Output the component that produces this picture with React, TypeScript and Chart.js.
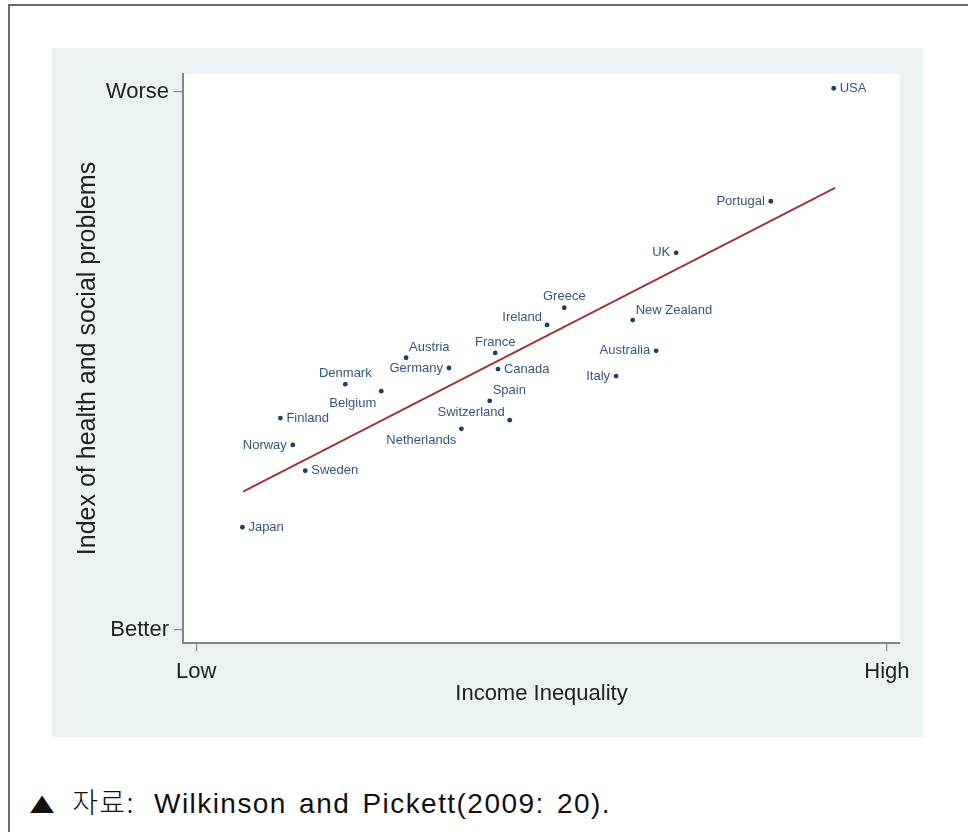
import React, { useEffect, useRef } from 'react';
import { Chart, registerables } from 'chart.js';

Chart.register(...registerables);

// ---- Data ----
const countries = [
  'USA', 'Portugal', 'UK', 'Greece', 'Ireland', 'New Zealand', 'France', 'Australia',
  'Canada', 'Germany', 'Austria', 'Italy', 'Denmark', 'Belgium', 'Spain', 'Switzerland',
  'Netherlands', 'Finland', 'Norway', 'Sweden', 'Japan',
];
const incomeInequality = [
  9.23, 8.32, 6.95, 5.33, 5.08, 6.32, 4.33, 6.66,
  4.37, 3.66, 3.04, 6.08, 2.16, 2.68, 4.25, 4.54,
  3.84, 1.22, 1.40, 1.58, 0.67,
];
const healthSocialIndex = [
  10.07, 7.97, 7.01, 5.99, 5.67, 5.76, 5.15, 5.19,
  4.85, 4.87, 5.06, 4.72, 4.57, 4.44, 4.26, 3.90,
  3.74, 3.94, 3.44, 2.96, 1.91,
];
const fitLineX = [0.68, 9.25];
const fitLineY = [2.57, 8.22];
const xTickValues = [0, 10];
const xTickLabels = ['Low', 'High'];
const yTickValues = [0, 10];
const yTickLabels = ['Better', 'Worse'];

// label placement (clock positions, as in Stata's mlabposition)
const labelClock: Record<string, number> = {
  USA: 3, Portugal: 9, UK: 9, Greece: 12, Ireland: 11, 'New Zealand': 1, France: 12,
  Australia: 9, Canada: 3, Germany: 9, Austria: 1, Italy: 9, Denmark: 12, Belgium: 7,
  Spain: 1, Switzerland: 11, Netherlands: 7, Finland: 3, Norway: 9, Sweden: 3, Japan: 3,
};

const FONT = '"Liberation Sans", Arial, Helvetica, sans-serif';
const NAVY = '#1c3f68';
const LABEL = '#33577f';
const MAROON = '#a3343b';

const plotBackground = {
  id: 'plotBackground',
  beforeDraw(chart: any) {
    const { ctx, chartArea } = chart;
    if (!chartArea) return;
    ctx.save();
    ctx.fillStyle = '#ffffff';
    ctx.fillRect(chartArea.left, chartArea.top, chartArea.right - chartArea.left, chartArea.bottom - chartArea.top);
    ctx.restore();
  },
};

const pointLabels = {
  id: 'pointLabels',
  afterDatasetsDraw(chart: any) {
    const { ctx } = chart;
    const meta = chart.getDatasetMeta(0);
    ctx.save();
    ctx.font = `13px ${FONT}`;
    ctx.fillStyle = LABEL;
    meta.data.forEach((el: any, i: number) => {
      const name = countries[i];
      const pos = labelClock[name] ?? 3;
      let dx = 6, dy = 0, align: CanvasTextAlign = 'left';
      if (pos === 3) { dx = 6; dy = 0; align = 'left'; }
      else if (pos === 9) { dx = -6; dy = 0; align = 'right'; }
      else if (pos === 12) { dx = 0; dy = -11; align = 'center'; }
      else if (pos === 1) { dx = 3; dy = -10; align = 'left'; }
      else if (pos === 11) { dx = -5; dy = -8; align = 'right'; }
      else if (pos === 7) { dx = -5; dy = 12; align = 'right'; }
      ctx.textAlign = align;
      ctx.textBaseline = 'middle';
      ctx.fillText(name, el.x + dx, el.y + dy);
    });
    ctx.restore();
  },
};

function ScatterChart() {
  const canvasRef = useRef<HTMLCanvasElement | null>(null);

  useEffect(() => {
    if (!canvasRef.current) return;
    const points = countries.map((_, i) => ({ x: incomeInequality[i], y: healthSocialIndex[i] }));
    const fit = fitLineX.map((x, i) => ({ x, y: fitLineY[i] }));

    const chart = new Chart(canvasRef.current, {
      type: 'scatter',
      data: {
        datasets: [
          {
            label: 'Countries',
            data: points,
            pointRadius: 2.4,
            pointBackgroundColor: NAVY,
            pointBorderWidth: 0,
            borderWidth: 0,
          },
          {
            label: 'Fitted values',
            data: fit,
            showLine: true,
            borderColor: MAROON,
            borderWidth: 2,
            pointRadius: 0,
          } as any,
        ],
      },
      options: {
        animation: false,
        responsive: false,
        devicePixelRatio: 1,
        layout: { padding: { left: 0, right: 23, top: 26, bottom: 0 } },
        plugins: {
          legend: { display: false },
          tooltip: { enabled: false },
        },
        scales: {
          x: {
            type: 'linear',
            min: -0.19,
            max: 10.19,
            afterBuildTicks: (scale: any) => {
              scale.ticks = xTickValues.map((v) => ({ value: v }));
            },
            afterFit: (scale: any) => {
              scale.height = 94;
            },
            ticks: {
              callback: (_v: any, idx: number) => xTickLabels[idx],
              font: { family: FONT, size: 22 },
              color: '#222222',
              padding: 8,
              maxRotation: 0,
              autoSkip: false,
            },
            grid: {
              drawOnChartArea: false,
              drawTicks: true,
              tickLength: 8,
              color: '#8a8a8a',
              lineWidth: 1.2,
            },
            border: { display: true, color: '#858585', width: 2 },
            title: {
              display: true,
              text: 'Income Inequality',
              font: { family: FONT, size: 22 },
              color: '#222222',
              padding: { top: 0, bottom: 30 },
            },
          },
          y: {
            type: 'linear',
            min: -0.242,
            max: 10.335,
            afterBuildTicks: (scale: any) => {
              scale.ticks = yTickValues.map((v) => ({ value: v }));
            },
            afterFit: (scale: any) => {
              scale.width = 131;
            },
            ticks: {
              callback: (_v: any, idx: number) => yTickLabels[idx],
              font: { family: FONT, size: 22 },
              color: '#222222',
              padding: 5,
              autoSkip: false,
            },
            grid: {
              drawOnChartArea: false,
              drawTicks: true,
              tickLength: 9,
              color: '#8a8a8a',
              lineWidth: 1.2,
            },
            border: { display: true, color: '#858585', width: 2 },
            title: {
              display: true,
              text: 'Index of health and social problems',
              font: { family: FONT, size: 25 },
              color: '#222222',
              padding: { top: 21, bottom: 0 },
            },
          },
        },
      },
      plugins: [plotBackground, pointLabels],
    });

    return () => chart.destroy();
  }, []);

  return <canvas ref={canvasRef} width={871} height={689} style={{ display: 'block' }} />;
}

export default function App() {
  return (
    <div
      style={{
        position: 'absolute',
        left: 0,
        top: 0,
        width: 968,
        height: 832,
        overflow: 'hidden',
        background: '#ffffff',
      }}
    >
      <div
        style={{
          position: 'absolute',
          left: 8,
          top: 4,
          width: 980,
          height: 860,
          borderTop: '2px solid #6a6a6a',
          borderLeft: '2px solid #6a6a6a',
          boxSizing: 'border-box',
        }}
      />
      <div
        style={{
          position: 'absolute',
          left: 52,
          top: 48,
          width: 871,
          height: 689,
          background: '#eaf2f3',
        }}
      >
        <ScatterChart />
      </div>
      <div
        style={{
          position: 'absolute',
          left: 29,
          top: 787,
          fontFamily: '"Liberation Sans", Arial, "Noto Sans CJK KR", sans-serif',
          fontSize: 28,
          lineHeight: '28px',
          letterSpacing: '1.45px',
          wordSpacing: '3px',
          color: '#111111',
          whiteSpace: 'nowrap',
        }}
      >
        <span
          style={{
            display: 'inline-block',
            fontSize: 30,
            transform: 'scaleX(1.35)',
            transformOrigin: 'left center',
            marginLeft: -7,
            marginRight: 19,
          }}
        >
          ▲
        </span>
        <span style={{ fontFamily: '"Noto Sans CJK KR", sans-serif', fontWeight: 300, marginRight: 19 }}>자료:</span>
        Wilkinson and Pickett(2009: 20).
      </div>
    </div>
  );
}
